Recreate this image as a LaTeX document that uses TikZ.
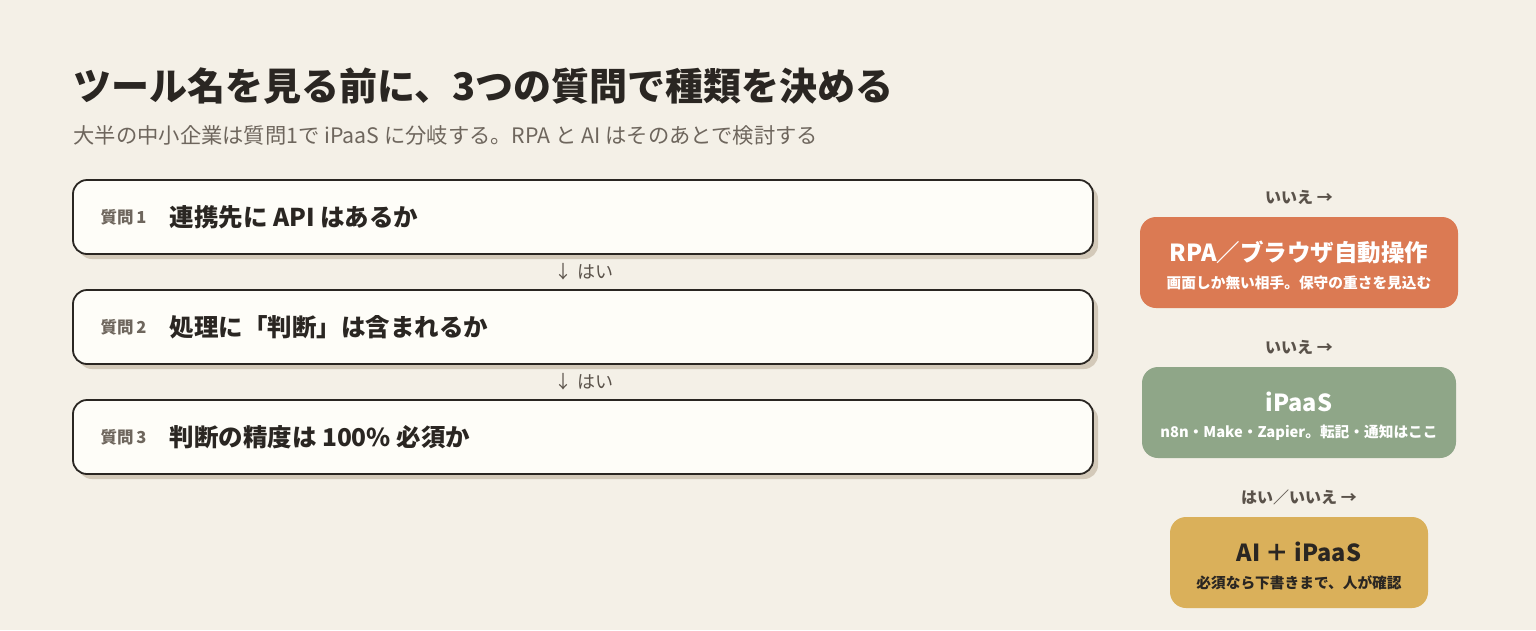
\documentclass[tikz,border=0pt]{standalone}
\usepackage{fontspec}
\setmainfont{Noto Sans CJK JP}
\usetikzlibrary{shadows}

\definecolor{bgc}{HTML}{F4F0E7}
\definecolor{boxc}{HTML}{FEFDF8}
\definecolor{inkc}{HTML}{2A2622}
\definecolor{shadowc}{HTML}{D3C9B9}
\definecolor{greyc}{HTML}{6E665D}
\definecolor{labelc}{HTML}{5A524A}
\definecolor{rpac}{HTML}{DB7A53}
\definecolor{ipaasc}{HTML}{8FA688}
\definecolor{aic}{HTML}{DAB05A}

\begin{document}
\begin{tikzpicture}[x=1pt, y=-1pt,
  question/.style={draw=inkc, line width=1.8pt, fill=boxc, rounded corners=14pt,
    minimum width=1020pt, minimum height=74pt, inner sep=0pt,
    copy shadow={shadow xshift=5pt, shadow yshift=-5pt, fill=shadowc, draw=none}},
  qnum/.style={anchor=west, text=greyc, font=\fontsize{16.5}{19}\selectfont\bfseries},
  qtext/.style={anchor=west, text=inkc, font=\fontsize{24.5}{29}\selectfont\bfseries},
  yes/.style={text=labelc, font=\fontsize{18}{21}\selectfont},
  branch/.style={text=labelc, font=\fontsize{16}{19}\selectfont\bfseries},
  outcome/.style={rounded corners=16pt, minimum height=91pt, inner sep=0pt},
  otitle/.style={font=\fontsize{23.5}{27}\selectfont\bfseries},
  osub/.style={font=\fontsize{14.7}{17}\selectfont\bfseries}]

  \fill[bgc] (0,0) rectangle (1536,630);

  \node[anchor=west, text=inkc, font=\fontsize{38}{44}\selectfont\bfseries] (title) at (70,86)
    {ツール名を見る前に、3つの質問で種類を決める};
  \node[anchor=west, text=greyc, font=\fontsize{21.3}{25}\selectfont] (subtitle) at (70,135)
    {大半の中小企業は質問1で iPaaS に分岐する。RPA と AI はそのあとで検討する};

  % questions
  \foreach \t [count=\i] in {連携先に API はあるか, 処理に「判断」は含まれるか, 判断の精度は 100\% 必須か} {
    \node[question] (q\i) at (583, 107+110*\i) {};
    \node[qnum] (qnum\i) at (97, 107+110*\i) {質問\,\i};
    \node[qtext] (qtext\i) at (166, 107+110*\i) {\t};
  }

  \node[yes] (yes1) at (584,272) {↓ はい};
  \node[yes] (yes2) at (584,382) {↓ はい};

  % outcomes
  \node[branch] (no1) at (1299,197) {いいえ →};
  \node[outcome, fill=rpac, minimum width=318pt] (rpa) at (1299,262.5) {};
  \node[otitle, text=white] (rpa-title) at (1299,252) {RPA／ブラウザ自動操作};
  \node[osub, text=white] (rpa-sub) at (1299,283) {画面しか無い相手。保守の重さを見込む};

  \node[branch] (no2) at (1299,347) {いいえ →};
  \node[outcome, fill=ipaasc, minimum width=314pt] (ipaas) at (1299,412.5) {};
  \node[otitle, text=white] (ipaas-title) at (1299,402) {iPaaS};
  \node[osub, text=white] (ipaas-sub) at (1299,433) {n8n・Make・Zapier。転記・通知はここ};

  \node[branch] (both) at (1299,497) {はい／いいえ →};
  \node[outcome, fill=aic, minimum width=258pt] (ai) at (1299,562.5) {};
  \node[otitle, text=inkc] (ai-title) at (1299,552) {AI ＋ iPaaS};
  \node[osub, text=inkc] (ai-sub) at (1299,583) {必須なら下書きまで、人が確認};

\end{tikzpicture}
\end{document}
